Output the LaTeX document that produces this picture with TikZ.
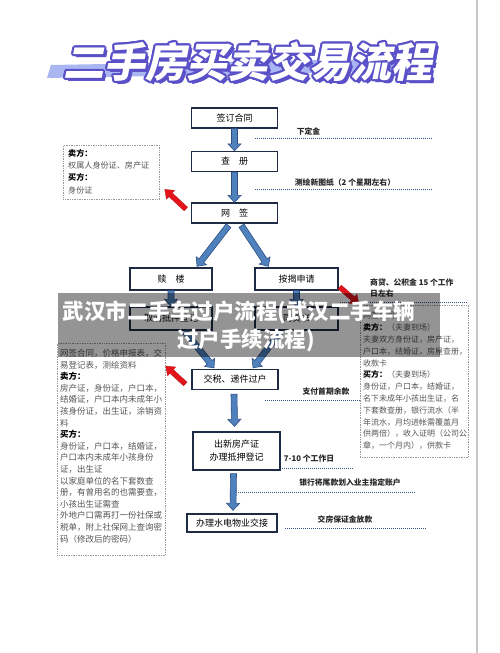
\documentclass[tikz,border=0pt]{standalone}
\usepackage{fontspec}
\usetikzlibrary{calc}
\setmainfont{Noto Sans CJK SC}
\newfontfamily\titlecjk{Noto Sans CJK SC}[FakeSlant=0.2]
\definecolor{navy}{HTML}{1F2A44}
\definecolor{arrfill}{HTML}{4F81BD}
\definecolor{arredge}{HTML}{2F4F85}
\definecolor{dotc}{HTML}{34558C}
\definecolor{redarr}{HTML}{E3141B}
\definecolor{tpurple}{HTML}{5A50C8}
\definecolor{tstripe}{HTML}{A9B6F2}
\definecolor{notetext}{HTML}{555555}
% #1 style, #2 from, #3 to, #4 half shaft, #5 half head, #6 head length
\newcommand\blockarr[6]{\path[#1] let \p1=#2, \p2=#3, \n1={atan2(\y2-\y1,\x2-\x1)}, \n2={veclen(\x2-\x1,\y2-\y1)} in [shift={(\p1)}, rotate=\n1] (0pt,-#4pt) -- ({\n2-#6pt},-#4pt) -- ({\n2-#6pt},-#5pt) -- (\n2,0pt) -- ({\n2-#6pt},#5pt) -- ({\n2-#6pt},#4pt) -- (0pt,#4pt) -- cycle;}
\begin{document}
\begin{tikzpicture}[x=1pt,y=-1pt,
 box/.style={draw=navy,line width=1.3pt,fill=white,minimum width=86pt,minimum height=20pt,inner sep=1pt,font=\fontsize{9}{10.5}\selectfont},
 notebox/.style={draw=gray!80,densely dotted,line width=0.7pt,anchor=north west,inner sep=0pt},
 notetxt/.style={anchor=north west,inner sep=0pt,align=left,text=notetext},
 lbl/.style={font=\bfseries\fontsize{7.8}{9.5}\selectfont,inner sep=0pt,text=black!85},
 dotl/.style={dotc,densely dotted,line width=1pt},
 barrow/.style={fill=arrfill,draw=arredge,line width=0.6pt},
 rarrow/.style={fill=redarr,draw=redarr!80!black,line width=0.3pt},
 ttl/.style={font=\titlecjk\bfseries\fontsize{41}{41}\selectfont,inner sep=0pt}
]
\useasboundingbox (0,0) rectangle (500,653);
\fill[white] (0,0) rectangle (500,653);
\draw[gray!45,line width=1.2pt] (477,0) -- (477,653);

% title
\fill[tstripe] (47,78) -- (51,65) -- (437,58) -- (433,71) -- cycle;
\foreach \s in {0.5,1,...,3} \node[ttl,text=tpurple] at (248+\s,62+\s) {二手房买卖交易流程};
\foreach \a in {0,30,...,330} \node[ttl,text=tpurple] at ($(248,62)+(\a:2.1)$) {二手房买卖交易流程};
\node[ttl,text=white] (title) at (248,62) {二手房买卖交易流程};

% main boxes
\node[box] (qd) at (234.5,118) {签订合同};
\node[box] (cc) at (234.5,161.5) {查\hspace{1em}册};
\node[box] (wq) at (234.5,213) {网\hspace{1em}签};
\node[box,minimum width=82pt,minimum height=22pt] (sl) at (171,279) {赎\hspace{1em}楼};
\node[box,minimum width=83pt,minimum height=22pt] (aj) at (296.5,279) {按揭申请};
\node[box,minimum width=82pt,minimum height=23pt] (qx) at (171,318.5) {取消抵押登记};
\node[box,minimum width=83pt,minimum height=23pt] (td) at (296.5,318.5) {同贷书};
\node[box] (js) at (235,379.5) {交税、递件过户};
\node[box,minimum width=87pt,minimum height=38pt,align=center,font=\fontsize{9}{13}\selectfont] (cx) at (236.5,451) {出新房产证\\办理抵押登记};
\node[box,minimum width=90pt,minimum height=18pt] (sd) at (232,523) {办理水电物业交接};

% note boxes
\node[notebox,minimum width=96pt,minimum height=54pt] (n1) at (63,145) {};
\node[notetxt,font=\fontsize{8.1}{12.3}\selectfont] (n1t) at (68,149) {\textcolor{black}{\textbf{卖方：}}\\权属人身份证、房产证\\\textcolor{black}{\textbf{买方：}}\\身份证};

\node[notebox,minimum width=108pt,minimum height=212pt] (n2) at (57,343) {};
\node[notetxt,font=\fontsize{8.5}{11.6}\selectfont] (n2t) at (60,349) {网签合同，价格申报表，交\\易登记表，测绘资料\\\textcolor{black}{\textbf{卖方：}}\\房产证，身份证，户口本，\\结婚证，户口本内未成年小\\孩身份证，出生证，涂销资\\料\\\textcolor{black}{\textbf{买方：}}\\身份证，户口本，结婚证，\\户口本内未成年小孩身份\\证，出生证\\以家庭单位的名下套数查\\册，有曾用名的也需要查，\\小孩出生证需查\\外地户口需再打一份社保或\\税单，附上社保网上查询密\\码（修改后的密码）};

\node[notebox,minimum width=108pt,minimum height=152pt] (n3) at (360,305) {};
\node[notetxt,font=\fontsize{8}{11.8}\selectfont] (n3t) at (363,312) {网签合同\\\textcolor{black}{\textbf{卖方：}}（夫妻到场）\\夫妻双方身份证，房产证，\\户口本，结婚证，房屋查册，\\收款卡\\\textcolor{black}{\textbf{买方：}}（夫妻到场）\\身份证，户口本，结婚证，\\名下未成年小孩出生证，名\\下套数查册，银行流水（半\\年流水，月均进帐需覆盖月\\供两倍），收入证明（公司公\\章，一个月内），供款卡};

% labels and dotted lines
\node[lbl] (l1) at (308.5,131) {下定金};
\draw[dotl] (255,138) -- (433,138);
\node[lbl] (l2) at (345,183) {测绘新图纸（2 个星期左右）};
\draw[dotl] (255,189.5) -- (433,189.5);
\node[lbl,align=left,anchor=west,font=\bfseries\fontsize{7.8}{11}\selectfont] (l3) at (370,287.5) {商贷、公积金 15 个工作\\日左右};
\draw[dotl] (340,302) -- (468,302);
\node[lbl] (l4) at (326,392) {支付首期余款};
\draw[dotl] (265,400) -- (360,400);
\node[lbl] (l5) at (309,459) {7-10 个工作日};
\draw[dotl] (282,468) -- (353,468);
\node[lbl] (l6) at (350,483) {银行将尾款划入业主指定账户};
\draw[dotl] (238,492) -- (415,492);
\node[lbl] (l7) at (345,520) {交房保证金放款};
\draw[dotl] (285,528) -- (427,528);

% blue arrows
\blockarr{barrow}{(qd.south)}{(cc.north)}{3}{6.5}{7}
\blockarr{barrow}{(cc.south)}{(wq.north)}{3}{6.5}{7}
\blockarr{barrow}{($(wq.south)+(-6,2)$)}{($(sl.north)+(26,-1)$)}{3}{6.5}{7}
\blockarr{barrow}{($(wq.south)+(7,2)$)}{($(aj.north)+(-28,-1)$)}{3}{6.5}{7}
\blockarr{barrow}{(sl.south)}{(qx.north)}{3}{6.5}{7}
\blockarr{barrow}{(aj.south)}{(td.north)}{3}{6.5}{7}
\blockarr{barrow}{($(qx.south)+(14,1)$)}{($(js.north)+(-21,-1)$)}{3}{6.5}{7}
\blockarr{barrow}{($(td.south)+(-16,1)$)}{($(js.north)+(18,-1)$)}{3}{6.5}{7}
\blockarr{barrow}{($(js.south)+(-1,4)$)}{($(cx.north)+(-2,-5)$)}{3}{6.5}{7}
\blockarr{barrow}{($(cx.south)+(-3,3)$)}{($(sd.north)+(1,-3)$)}{3}{6.5}{7}

% red arrows
\blockarr{rarrow}{($(wq.west)+(-5,-4)$)}{($(n1.east)+(5,17)$)}{2.5}{6}{8}
\blockarr{rarrow}{($(js.west)+(-6,4.5)$)}{($(n2.north east)+(0,23)$)}{2.5}{6}{8}
\blockarr{rarrow}{($(aj.east)+(1,8)$)}{($(n3.north west)+(-1,-1)$)}{2.5}{6}{8}

% overlay banner
\fill[black,opacity=0.42] (58,293) rectangle (440,357);
\node[font=\bfseries\fontsize{21.5}{24}\selectfont,text=white,inner sep=0pt] (b1) at (239,312) {武汉市二手车过户流程(武汉二手车辆};
\node[font=\bfseries\fontsize{21.5}{24}\selectfont,text=white,inner sep=0pt] (b2) at (246,340) {过户手续流程)};
\end{tikzpicture}
\end{document}
